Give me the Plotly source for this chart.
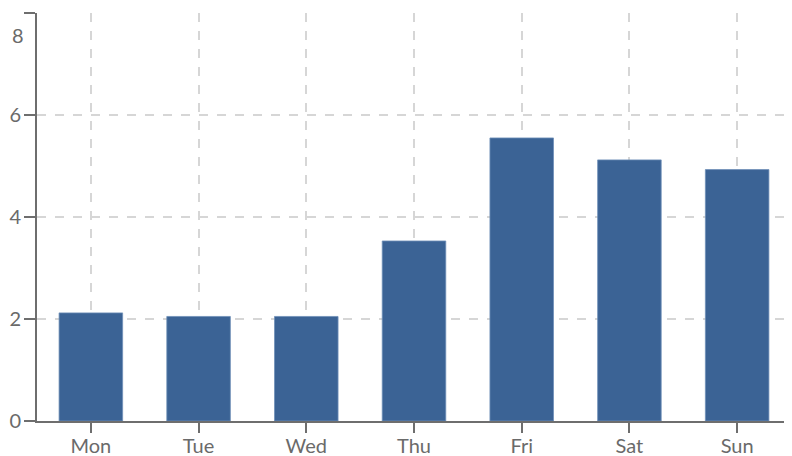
import plotly.graph_objects as go

days = ["Mon", "Tue", "Wed", "Thu", "Fri", "Sat", "Sun"]
values = [2.12, 2.05, 2.05, 3.53, 5.55, 5.12, 4.93]
y_ticks = [0, 2, 4, 6, 8]
y_tick_text = ["0", "2", "4", "6", ""]

fig = go.Figure()
fig.add_trace(go.Bar(
    x=days, y=values, width=0.59,
    marker=dict(color="#3b6395", line=dict(color="#6f8fb8", width=0.8)),
))

font = dict(family="Lato, Open Sans, sans-serif", size=20, color="#6a6a6a")
grid = "#d6d6d6"

# page body has an 8px default margin, compensate in the figure margins
fig.update_layout(
    width=792, height=456,
    margin=dict(l=29, r=9, t=5, b=43, autoexpand=False),
    paper_bgcolor="white", plot_bgcolor="white",
    showlegend=False, font=font, bargap=0.41,
    xaxis=dict(
        range=[-0.5, 6.5], showgrid=True, griddash="dash", gridcolor=grid, gridwidth=1.5,
        showline=True, linecolor="#6e6e6e", linewidth=2, automargin=False,
        ticks="outside", ticklen=10, tickwidth=2, tickcolor="#6e6e6e",
        tickfont=font, zeroline=False, ticklabelstandoff=-4,
    ),
    yaxis=dict(
        range=[0, 8], tickvals=y_ticks, ticktext=y_tick_text,
        showgrid=True, griddash="dash", gridcolor=grid, gridwidth=1.5,
        showline=True, linecolor="#6e6e6e", linewidth=2, automargin=False,
        ticks="outside", ticklen=11, tickwidth=2, tickcolor="#6e6e6e",
        tickfont=font, zeroline=False, ticklabelstandoff=-1,
    ),
)
fig.add_shape(type="line", xref="paper", yref="y", x0=1, x1=1, y0=0, y1=8,
              line=dict(color=grid, width=1.5, dash="dash"), layer="below")
fig.add_annotation(text="8", xref="paper", yref="y", x=0, y=7.57, xanchor="right",
                   xshift=-11, showarrow=False, font=font)

fig.write_html("out.html")
